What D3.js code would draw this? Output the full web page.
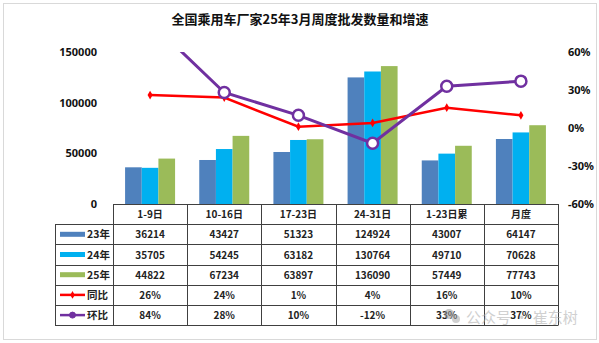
<!DOCTYPE html>
<html>
<head>
<meta charset="utf-8">
<script src="https://cdn.jsdelivr.net/npm/d3@7/dist/d3.min.js"></script>
<style>
  html, body { margin: 0; padding: 0; background: #fff; }
  svg { display: block; font-family: "Noto Sans CJK SC", "Noto Sans", sans-serif; }
</style>
</head>
<body>
<svg id="chart" width="599" height="343"></svg>
<script>
// Weekly periods
const categories = ["1-9日", "10-16日", "17-23日", "24-31日", "1-23日累", "月度"];
// Wholesale volumes by year
const seriesNames = ["23年", "24年", "25年"];
const sales23 = [36214, 43427, 51323, 124924, 43007, 64147];
const sales24 = [35705, 54245, 63182, 130764, 49710, 70628];
const sales25 = [44822, 67234, 63897, 136090, 57449, 77743];
// Growth rates (%)
const yoy = [26, 24, 1, 4, 16, 10];   // 同比
const mom = [84, 28, 10, -12, 33, 37]; // 环比
const leftTicks = [0, 50000, 100000, 150000];
const rightTicks = [-60, -30, 0, 30, 60];

const colors = { "23年": "#4f81bd", "24年": "#00b0f0", "25年": "#9bbb59" };
const red = "#ff0000", purple = "#7030a0";

const svg = d3.select("#chart");

// Outer frame
svg.append("rect").attr("x", 3.5).attr("y", 3.5).attr("width", 593).attr("height", 336)
  .attr("fill", "#fff").attr("stroke", "#d9d9d9").attr("stroke-width", 1);

// Title
svg.append("text").attr("x", 300).attr("y", 24).attr("text-anchor", "middle")
  .attr("font-size", 13).attr("font-weight", "bold").attr("fill", "#111")
  .text("全国乘用车厂家25年3月周度批发数量和增速");

const plot = { left: 113, right: 558, top: 52, bottom: 204 };

const x = d3.scaleBand().domain(categories).range([plot.left, plot.right]).padding(0);
const groupW = 50;
const xs = d3.scaleBand().domain(seriesNames)
  .range([(x.bandwidth() - groupW) / 2, (x.bandwidth() + groupW) / 2]).padding(0);
const y = d3.scaleLinear().domain([0, 150000]).range([plot.bottom, plot.top]);
const yr = d3.scaleLinear().domain([-60, 60]).range([plot.bottom, plot.top]);

// Left axis
const leftAxis = d3.axisLeft(y).tickValues(leftTicks).tickSize(0).tickPadding(0).tickFormat(d3.format("d"));
const gl = svg.append("g").attr("transform", "translate(97,0)").call(leftAxis);
gl.select(".domain").remove();
gl.selectAll("text").attr("font-size", 11).attr("font-weight", "bold").attr("fill", "#111")
  .attr("font-family", "'Noto Sans', sans-serif");

// Right axis
const rightAxis = d3.axisRight(yr).tickValues(rightTicks).tickSize(0).tickPadding(0).tickFormat(d => d + "%");
const gr = svg.append("g").attr("transform", "translate(568,0)").call(rightAxis);
gr.select(".domain").remove();
gr.selectAll("text").attr("font-size", 11).attr("font-weight", "bold").attr("fill", "#111")
  .attr("font-family", "'Noto Sans', sans-serif");

// Bars
const salesBySeries = { "23年": sales23, "24年": sales24, "25年": sales25 };
const barData = [];
seriesNames.forEach(s => categories.forEach((c, i) => barData.push({ s, c, v: salesBySeries[s][i] })));
svg.append("g").selectAll("rect").data(barData).join("rect")
  .attr("x", d => x(d.c) + xs(d.s))
  .attr("y", d => y(d.v))
  .attr("width", xs.bandwidth())
  .attr("height", d => y(0) - y(d.v))
  .attr("fill", d => colors[d.s]);

// Lines, clipped to the plot area
svg.append("clipPath").attr("id", "plotClip").append("rect")
  .attr("x", plot.left - 10).attr("y", plot.top).attr("width", plot.right - plot.left + 20)
  .attr("height", plot.bottom - plot.top);
const lines = svg.append("g").attr("clip-path", "url(#plotClip)");
const cx = c => x(c) + x.bandwidth() / 2;
const line = d3.line().x((d, i) => cx(categories[i])).y(d => yr(d));

lines.append("path").datum(yoy).attr("d", line).attr("fill", "none")
  .attr("stroke", red).attr("stroke-width", 2.5);
lines.append("g").selectAll("path").data(yoy).join("path")
  .attr("d", d3.symbol(d3.symbolDiamond, 22))
  .attr("transform", (d, i) => `translate(${cx(categories[i])},${yr(d)})`)
  .attr("fill", red);

lines.append("path").datum(mom).attr("d", line).attr("fill", "none")
  .attr("stroke", purple).attr("stroke-width", 3);
lines.append("g").selectAll("circle").data(mom).join("circle")
  .attr("cx", (d, i) => cx(categories[i])).attr("cy", d => yr(d)).attr("r", 5.5)
  .attr("fill", "#fff").attr("stroke", purple).attr("stroke-width", 2.5);

// Data table
const tableLeft = 55, headerTop = 204, rowH = 20.2;
const rows = [
  { name: "23年", values: sales23.map(String), kind: "bar", color: colors["23年"] },
  { name: "24年", values: sales24.map(String), kind: "bar", color: colors["24年"] },
  { name: "25年", values: sales25.map(String), kind: "bar", color: colors["25年"] },
  { name: "同比", values: yoy.map(v => v + "%"), kind: "line", color: red },
  { name: "环比", values: mom.map(v => v + "%"), kind: "circle", color: purple }
];
const table = svg.append("g");
const gridColor = "#404040";
const tableBottom = headerTop + rowH * (rows.length + 1);

// horizontal rules
table.append("line").attr("x1", plot.left).attr("x2", plot.right)
  .attr("y1", headerTop + 0.5).attr("y2", headerTop + 0.5).attr("stroke", gridColor);
for (let r = 1; r <= rows.length + 1; r++) {
  const yy = Math.round(headerTop + rowH * r) + 0.5;
  table.append("line").attr("x1", tableLeft).attr("x2", plot.right)
    .attr("y1", yy).attr("y2", yy).attr("stroke", gridColor);
}
// vertical rules
table.append("line").attr("x1", tableLeft + 0.5).attr("x2", tableLeft + 0.5)
  .attr("y1", headerTop + rowH).attr("y2", Math.round(tableBottom) + 0.5).attr("stroke", gridColor);
categories.concat([null]).forEach((c, i) => {
  const xx = Math.round(c ? x(c) : plot.right) + 0.5;
  table.append("line").attr("x1", xx).attr("x2", xx)
    .attr("y1", headerTop).attr("y2", Math.round(tableBottom) + 0.5).attr("stroke", gridColor);
});

// header labels
table.selectAll("text.hdr").data(categories).join("text").attr("class", "hdr")
  .attr("x", d => cx(d)).attr("y", headerTop + rowH / 2 + 4)
  .attr("text-anchor", "middle").attr("font-size", 10).attr("font-weight", "bold").attr("fill", "#222")
  .text(d => d);

rows.forEach((row, r) => {
  const top = headerTop + rowH * (r + 1);
  const mid = top + rowH / 2;
  // legend key
  if (row.kind === "bar") {
    table.append("rect").attr("x", 60).attr("y", mid - 2.5).attr("width", 25).attr("height", 5)
      .attr("fill", row.color);
  } else {
    table.append("line").attr("x1", 60).attr("x2", 85).attr("y1", mid).attr("y2", mid)
      .attr("stroke", row.color).attr("stroke-width", 2.5);
    if (row.kind === "line") {
      table.append("path").attr("d", d3.symbol(d3.symbolDiamond, 18))
        .attr("transform", `translate(72.5,${mid})`).attr("fill", row.color);
    } else {
      table.append("circle").attr("cx", 72.5).attr("cy", mid).attr("r", 3)
        .attr("fill", row.color).attr("stroke", row.color).attr("stroke-width", 1);
    }
  }
  table.append("text").attr("x", 87).attr("y", mid + 4).attr("font-size", 10.5)
    .attr("font-weight", "bold").attr("fill", "#222").text(row.name);
  row.values.forEach((v, i) => {
    table.append("text").attr("x", cx(categories[i])).attr("y", mid + 4)
      .attr("text-anchor", "middle").attr("font-size", 10).attr("font-weight", "bold")
      .attr("fill", "#222").text(v);
  });
});

// Account mark
const wm = svg.append("g").attr("opacity", 0.55);
wm.append("circle").attr("cx", 449).attr("cy", 314).attr("r", 5).attr("fill", "#999");
wm.append("circle").attr("cx", 456).attr("cy", 319).attr("r", 4).attr("fill", "#aaa");
wm.append("text").attr("x", 466).attr("y", 323).attr("font-size", 15).attr("fill", "#aaa")
  .text("公众号 · 崔东树");
</script>
</body>
</html>
